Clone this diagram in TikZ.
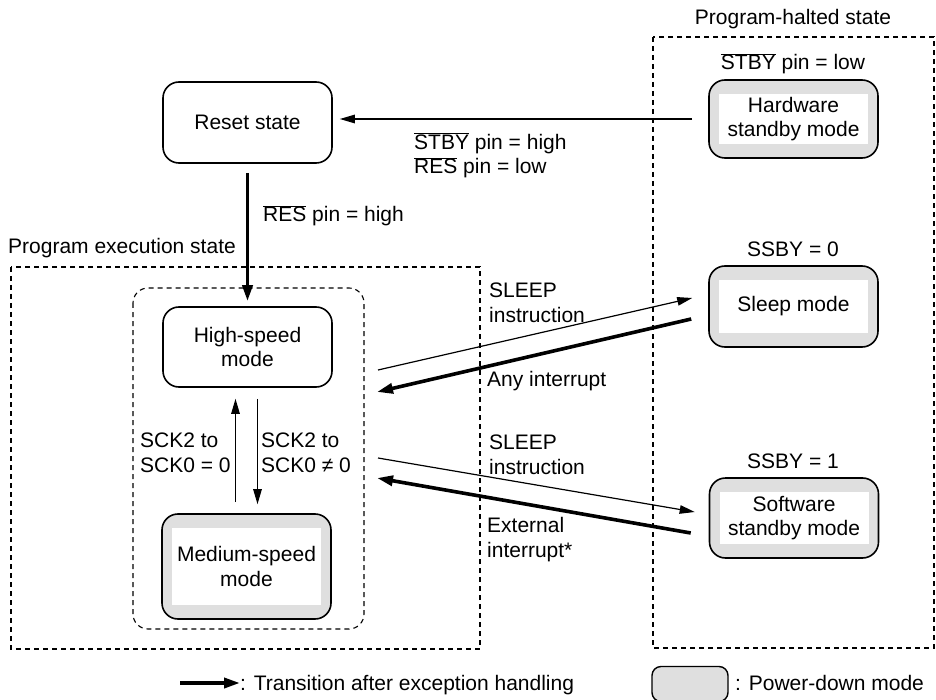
\documentclass[tikz,border=0pt]{standalone}
\usepackage{fontspec}
\setmainfont{Liberation Sans}
\usetikzlibrary{arrows.meta}

\newcommand{\ovl}[1]{$\overline{\mbox{#1}}$}

\tikzset{
  statebox/.style={draw, line width=1.6pt, rounded corners=16pt,
    minimum width=169pt, inner sep=0pt, align=center},
  pdbox/.style={statebox, fill=gray!25,
    path picture={\fill[white, sharp corners]
      ([shift={(10,14)}]path picture bounding box.north west) rectangle
      ([shift={(-10,-14)}]path picture bounding box.south east);}},
  pdlegend/.style={draw, line width=1.4pt, fill=gray!25, rounded corners=9pt,
    minimum width=76pt, minimum height=35pt, inner sep=0pt},
  frame/.style={dash pattern=on 5pt off 4pt, line width=1.1pt},
  lbl/.style={anchor=base west, inner sep=0pt, align=left},
  thinarr/.style={line width=1.2pt, -{Triangle[length=15pt,width=8.5pt]}},
  thickarr/.style={line width=3.6pt, -{Triangle[length=16pt,width=10pt]}}
}

\begin{document}
\begin{tikzpicture}[x=1pt, y=-1pt, font=\fontsize{21}{24.5}\selectfont]
  \useasboundingbox (0,0) rectangle (936,700);

  % dashed frames
  \draw[frame] (11,267) rectangle (480,649);
  \draw[frame, rounded corners=15pt] (133,288) rectangle (364,629);
  \draw[frame] (653,37) rectangle (934,648);

  % states
  \node[statebox, minimum height=81pt] (reset) at (247.5,122.5) {Reset state};
  \node[statebox, minimum height=80pt] (high) at (247.5,347) {High-speed\\mode};
  \node[pdbox, minimum height=105pt] (med) at (246.5,566.5) {Medium-speed\\mode};
  \node[pdbox, minimum height=78pt] (hw) at (793.5,119) {Hardware\\standby mode};
  \node[pdbox, minimum height=81pt] (sleep) at (793.5,306.5) {Sleep mode};
  \node[pdbox, minimum height=80pt] (sw) at (794,518) {Software\\standby mode};

  % labels (base = last line)
  \node[lbl, anchor=base] (haltedlbl) at (793,25) {Program-halted state};
  \node[lbl, anchor=base] (stbylow) at (793,70) {\ovl{STBY} pin = low};
  \node[lbl, anchor=base] (ssbyzero) at (793,257) {SSBY = 0};
  \node[lbl, anchor=base] (ssbyone) at (793,468) {SSBY = 1};
  \node[lbl] (execlbl) at (8,254) {Program execution state};
  \node[lbl] (reshigh) at (263,222) {\ovl{RES} pin = high};
  \node[lbl] (stbyhigh) at (414,174) {\ovl{STBY} pin = high\\\ovl{RES} pin = low};
  \node[lbl] (sleeplblA) at (489,322) {SLEEP\\instruction};
  \node[lbl] (anyint) at (487,386) {Any interrupt};
  \node[lbl] (sleeplblB) at (489,474) {SLEEP\\instruction};
  \node[lbl] (extint) at (487,557) {External\\interrupt*};
  \node[lbl] (sckup) at (140,472) {SCK2 to\\SCK0 = 0};
  \node[lbl] (sckdown) at (261,472) {SCK2 to\\SCK0 ≠ 0};

  % transitions
  \draw[thinarr, shorten <=16pt, shorten >=7pt] (hw.west) -- (hw.west -| reset.east);
  \draw[thickarr, shorten <=9pt, shorten >=5pt] (reset.south) -- (high.north);
  \draw[thinarr, shorten <=11pt, shorten >=11pt]
    ([shift={(-11,0)}]med.north) -- ([shift={(-11,0)}]med.north |- high.south);
  \draw[thinarr, shorten <=11pt, shorten >=9pt]
    ([shift={(10,0)}]high.south) -- ([shift={(10,0)}]high.south |- med.north);

  \coordinate (sleepoutA) at (378,370);
  \coordinate (anyin) at (377,392);
  \coordinate (sleepoutB) at (378,458);
  \coordinate (extin) at (377,478);
  \draw[thinarr] (sleepoutA) -- ([shift={(-16,-8.5)}]sleep.west);
  \draw[thickarr] ([shift={(-17,12.5)}]sleep.west) -- (anyin);
  \draw[thinarr] (sleepoutB) -- ([shift={(-14,-6)}]sw.west);
  \draw[thickarr] ([shift={(-18,15)}]sw.west) -- (extin);

  % legend
  \coordinate (lgstart) at (180,683);
  \node[lbl] (lgtrans) at (240,690) {: Transition after exception handling};
  \draw[thickarr] (lgstart) -- (lgstart -| lgtrans.west);
  \node[pdlegend] (lgbox) at (690,684) {};
  \node[lbl] (lgpd) at (735,690) {: Power-down mode};
\end{tikzpicture}
\end{document}
